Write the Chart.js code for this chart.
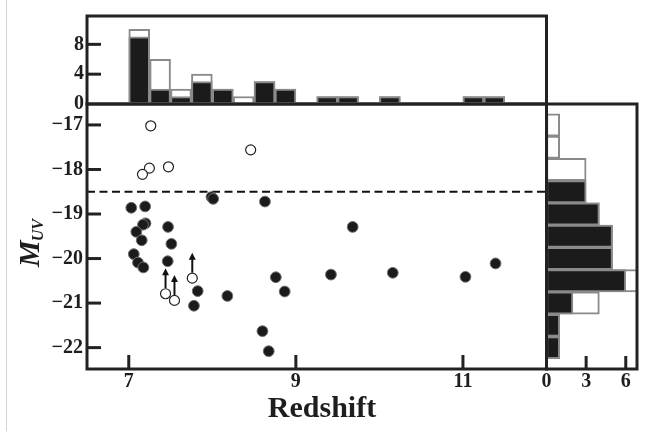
<!DOCTYPE html>
<html><head><meta charset="utf-8">
<script src="https://cdn.jsdelivr.net/npm/chart.js@4/dist/chart.umd.min.js"></script>
<style>
html,body{margin:0;padding:0;background:#fff;}
#wrap{position:relative;width:654px;height:431px;background:#fff;}
#edge{position:absolute;left:6px;top:0;width:1px;height:431px;background:#d4d4d4;}
canvas{position:absolute;left:0;top:0;}
</style></head><body>
<div id="wrap">
<div id="edge"></div>
<canvas id="main" width="654" height="431"></canvas>
<canvas id="top" width="654" height="431"></canvas>
<canvas id="right" width="654" height="431"></canvas>
</div>
<script>
// ---------- data ----------
const filledZ = [7.99, 8.01, 8.63, 7.03, 7.196, 7.20, 7.17, 7.09, 7.47, 7.155, 7.51, 7.06, 7.11, 7.175, 7.466, 7.825, 7.78, 8.18, 8.60, 8.675, 8.76, 9.68, 8.866, 9.42, 10.16, 11.03, 11.39];
const filledM = [-18.62, -18.66, -18.72, -18.86, -18.83, -19.21, -19.24, -19.40, -19.29, -19.59, -19.67, -19.90, -20.09, -20.20, -20.06, -20.73, -21.06, -20.84, -21.63, -22.08, -20.42, -19.29, -20.74, -20.36, -20.32, -20.41, -20.11];
const openZ = [7.263, 8.459, 7.247, 7.164, 7.475, 7.44, 7.547, 7.76];
const openM = [-17.02, -17.56, -17.97, -18.11, -17.94, -20.79, -20.94, -20.44];
const limitFlags = [false, false, false, false, false, true, true, true]; // upward arrows
const arrowLen = 0.57; // mag
const cutMag = -18.5;

const zBinCenters = [7.125, 7.375, 7.625, 7.875, 8.125, 8.375, 8.625, 8.875, 9.125, 9.375, 9.625, 9.875, 10.125, 10.375, 10.625, 10.875, 11.125, 11.375];
const zHistFilled = [9, 2, 1, 3, 2, 0, 3, 2, 0, 1, 1, 0, 1, 0, 0, 0, 1, 1];
const zHistAll    = [10, 6, 2, 4, 2, 1, 3, 2, 0, 1, 1, 0, 1, 0, 0, 0, 1, 1];

const mBinCenters = [-17, -17.5, -18, -18.5, -19, -19.5, -20, -20.5, -21, -21.5, -22];
const mHistFilled = [0, 0, 0, 3, 4, 5, 5, 6, 2, 1, 1];
const mHistAll    = [1, 1, 3, 3, 4, 5, 5, 7, 4, 1, 1];

const xTickVals = [7, 9, 11];
const yTickVals = [-17, -18, -19, -20, -21, -22];
const topTickVals = [0, 4, 8];
const rightTickVals = [0, 3, 6];

// ---------- styles ----------
const FONT = "'Liberation Serif', 'DejaVu Serif', serif";
const INK = '#1e1e1e';
const GRAY = '#8a8a8a';
const tickFont = {family: FONT, size: 20, weight: 'bold'};
const fmt = v => (v < 0 ? '\u2212' + Math.abs(v) : String(v));
const setTicks = vals => s => { s.ticks = vals.map(v => ({value: v})); };

const framePlugin = {
  id: 'frame',
  afterDatasetsDraw(chart, args, o) {
    const {ctx, chartArea: a} = chart;
    ctx.save();
    ctx.strokeStyle = '#222';
    ctx.lineWidth = 3;
    ctx.lineCap = 'butt';
    const len = o.len || 14;
    (o.xTicks || []).forEach(v => {
      const px = chart.scales.x.getPixelForValue(v);
      ctx.beginPath(); ctx.moveTo(px, a.bottom); ctx.lineTo(px, a.bottom - len); ctx.stroke();
    });
    (o.yTicks || []).forEach(v => {
      const py = chart.scales.y.getPixelForValue(v);
      ctx.beginPath(); ctx.moveTo(a.left, py); ctx.lineTo(a.left + len, py); ctx.stroke();
    });
    ctx.strokeRect(a.left, a.top, a.right - a.left, a.bottom - a.top);
    ctx.restore();
  }
};

const arrowPlugin = {
  id: 'arrows',
  afterDatasetsDraw(chart) {
    const {ctx} = chart;
    const xs = chart.scales.x, ys = chart.scales.y;
    ctx.save();
    ctx.strokeStyle = '#111'; ctx.fillStyle = '#111'; ctx.lineWidth = 2;
    openZ.forEach((z, i) => {
      if (!limitFlags[i]) return;
      const px = xs.getPixelForValue(z);
      const py0 = ys.getPixelForValue(openM[i]) - 5.5;
      const py1 = ys.getPixelForValue(openM[i] + arrowLen);
      ctx.beginPath(); ctx.moveTo(px, py0); ctx.lineTo(px, py1 + 5); ctx.stroke();
      ctx.beginPath(); ctx.moveTo(px, py1); ctx.lineTo(px - 3.5, py1 + 7); ctx.lineTo(px + 3.5, py1 + 7); ctx.closePath(); ctx.fill();
    });
    ctx.restore();
  }
};

const labelPlugin = {
  id: 'labels',
  afterDraw(chart) {
    const {ctx} = chart;
    ctx.save();
    ctx.fillStyle = INK;
    ctx.textAlign = 'center'; ctx.textBaseline = 'alphabetic';
    ctx.font = `bold 30px ${FONT}`;
    ctx.fillText('Redshift', 322, 417);
    ctx.translate(39, 267);
    ctx.rotate(-Math.PI / 2);
    ctx.textAlign = 'left';
    ctx.font = `italic bold 30px ${FONT}`;
    ctx.fillText('M', 0, 0);
    const w = ctx.measureText('M').width;
    ctx.font = `italic bold 16px ${FONT}`;
    ctx.fillText('UV', w - 1, 4);
    ctx.restore();
  }
};

const common = {
  responsive: false, animation: false, events: [],
};

// ---------- main scatter ----------
new Chart(document.getElementById('main'), {
  type: 'scatter',
  data: {
    datasets: [
      {
        label: 'filled', order: 0,
        data: filledZ.map((z, i) => ({x: z, y: filledM[i]})),
        pointRadius: 5.4, backgroundColor: '#1b1b1b', borderColor: '#707070', borderWidth: 1
      },
      {
        label: 'open', order: 1,
        data: openZ.map((z, i) => ({x: z, y: openM[i]})),
        pointRadius: 5, backgroundColor: '#ffffff', borderColor: '#222', borderWidth: 1.2
      },
      {
        type: 'line', label: 'cut', order: 2,
        data: [{x: 6.5, y: cutMag}, {x: 12, y: cutMag}],
        borderColor: '#111', borderWidth: 2, borderDash: [8, 4.5], pointRadius: 0, fill: false
      }
    ]
  },
  options: {
    ...common,
    layout: {padding: {left: 0, top: 104, right: 654 - 546.5, bottom: 0}},
    plugins: {legend: {display: false}, tooltip: {enabled: false},
      frame: {xTicks: xTickVals, yTicks: yTickVals, len: 14}},
    scales: {
      x: {
        type: 'linear', min: 6.5, max: 12, offset: false,
        afterFit(s) { s.height = 62; }, afterBuildTicks: setTicks(xTickVals),
        grid: {display: false, drawTicks: false}, border: {display: false},
        ticks: {font: tickFont, color: INK, padding: 1, callback: fmt}
      },
      y: {
        type: 'linear', min: -22.48, max: -16.53, offset: false,
        afterFit(s) { s.width = 87; }, afterBuildTicks: setTicks(yTickVals),
        grid: {display: false, drawTicks: false}, border: {display: false},
        ticks: {font: tickFont, color: INK, padding: 4, callback: fmt}
      }
    }
  },
  plugins: [framePlugin, arrowPlugin, labelPlugin]
});

// ---------- top histogram ----------
new Chart(document.getElementById('top'), {
  type: 'bar',
  data: {
    datasets: [
      {label: 'filled', order: 0, grouped: false,
       data: zBinCenters.map((c, i) => ({x: c, y: zHistFilled[i]})),
       backgroundColor: '#1b1b1b', borderColor: GRAY, borderWidth: 2, borderSkipped: false,
       categoryPercentage: 1, barPercentage: 1},
      {label: 'all', order: 1, grouped: false,
       data: zBinCenters.map((c, i) => ({x: c, y: zHistAll[i]})),
       backgroundColor: '#ffffff', borderColor: GRAY, borderWidth: 2, borderSkipped: false,
       categoryPercentage: 1, barPercentage: 1}
    ]
  },
  options: {
    ...common,
    layout: {padding: {left: 0, top: 16, right: 654 - 546.5, bottom: 431 - 104}},
    plugins: {legend: {display: false}, tooltip: {enabled: false},
      frame: {yTicks: [4, 8], len: 14}},
    scales: {
      x: {type: 'linear', min: 6.5, max: 12, offset: false, display: false,
          grid: {offset: false}, afterBuildTicks: setTicks([7, 8, 9, 10, 11])},
      y: {
        type: 'linear', min: 0, max: 11.8,
        afterFit(s) { s.width = 87; }, afterBuildTicks: setTicks(topTickVals),
        grid: {display: false, drawTicks: false}, border: {display: false},
        ticks: {font: tickFont, color: INK, padding: 3, callback: fmt}
      }
    }
  },
  plugins: [framePlugin]
});

// ---------- right histogram ----------
new Chart(document.getElementById('right'), {
  type: 'bar',
  data: {
    datasets: [
      {label: 'filled', order: 0, grouped: false, clip: 0,
       data: mBinCenters.map((c, i) => ({y: c, x: mHistFilled[i]})),
       backgroundColor: '#1b1b1b', borderColor: GRAY, borderWidth: 2, borderSkipped: false,
       categoryPercentage: 1, barPercentage: 1},
      {label: 'all', order: 1, grouped: false, clip: 0,
       data: mBinCenters.map((c, i) => ({y: c, x: mHistAll[i]})),
       backgroundColor: '#ffffff', borderColor: GRAY, borderWidth: 2, borderSkipped: false,
       categoryPercentage: 1, barPercentage: 1}
    ]
  },
  options: {
    ...common,
    indexAxis: 'y',
    layout: {padding: {left: 546.5, top: 104, right: 654 - 637, bottom: 0}},
    plugins: {legend: {display: false}, tooltip: {enabled: false},
      frame: {xTicks: [3, 6], len: 13}},
    scales: {
      y: {type: 'linear', min: -22.48, max: -16.53, offset: false, display: false,
          grid: {offset: false}, afterBuildTicks: setTicks(yTickVals)},
      x: {
        type: 'linear', min: 0, max: 6.85, position: 'bottom', offset: false,
        afterFit(s) { s.height = 62; }, afterBuildTicks: setTicks(rightTickVals),
        grid: {display: false, drawTicks: false}, border: {display: false},
        ticks: {font: tickFont, color: INK, padding: 1, callback: fmt}
      }
    }
  },
  plugins: [framePlugin]
});
</script>
</body></html>
